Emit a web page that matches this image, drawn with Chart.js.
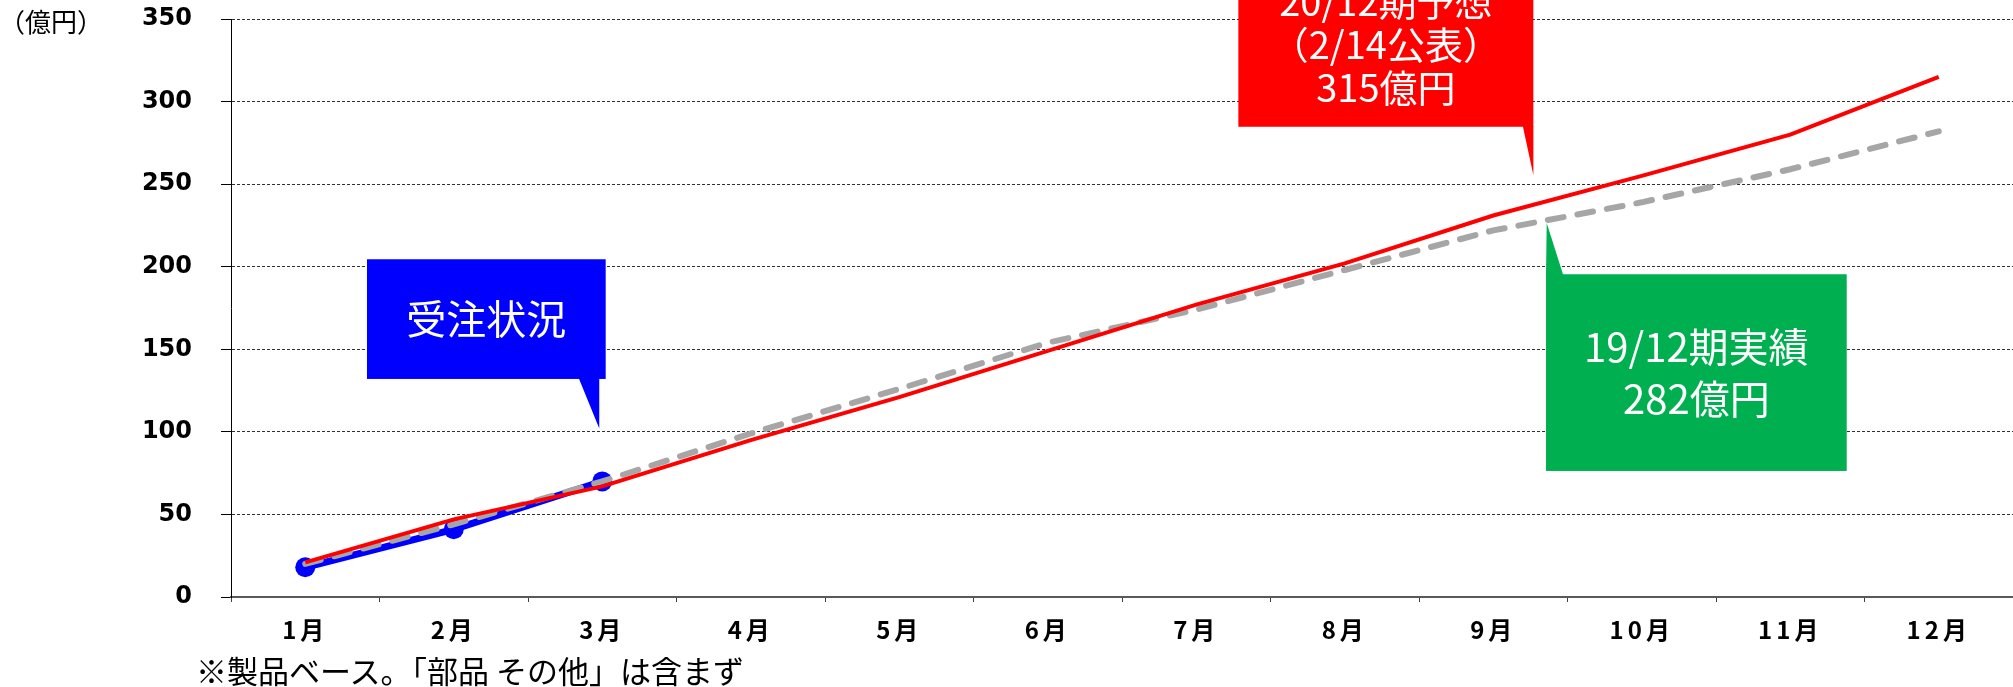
<!DOCTYPE html>
<html lang="ja">
<head>
<meta charset="utf-8">
<title>受注状況</title>
<script src="https://cdn.jsdelivr.net/npm/chart.js@4.4.1/dist/chart.umd.min.js"></script>
<style>
  html, body { margin: 0; padding: 0; background: #fff; overflow: hidden; }
  #wrap { position: relative; width: 2013px; height: 687px; }
  #c { position: absolute; left: 0; top: 0; }
  .unit { position: absolute; left: -1px; top: 6px; font: 26px "Noto Sans CJK JP", sans-serif; line-height: 30px; color: #000; white-space: nowrap; }
  .note { position: absolute; left: 196px; top: 654px; font: 31px "Noto Sans CJK JP", sans-serif; line-height: 31px; color: #000; white-space: nowrap; }
</style>
</head>
<body>
<div id="wrap">
  <canvas id="c" width="2013" height="687"></canvas>
  <div class="unit">（億円）</div>
  <div class="note">※製品ベース。「部品 その他」は含まず</div>
</div>
<script>
// Categories and axis ticks
const months = ['1月', '2月', '3月', '4月', '5月', '6月', '7月', '8月', '9月', '10月', '11月', '12月'];
const yTickValues = [0, 50, 100, 150, 200, 250, 300, 350];

// Cumulative values (億円)
const forecast2012 = [21, 47, 67, 95, 121, 149, 177, 202, 231, 255, 280, 315];   // 20/12期予想
const actual1912   = [20, 44, 70, 99, 126, 154, 174, 198, 222, 239, 259, 282];   // 19/12期実績
const orders2012   = [18, 41, 70, null, null, null, null, null, null, null, null, null]; // 受注状況

// Speech-bubble labels: tip anchored in data space, box given as pixel offsets from the tip
const callouts = [
  { lines: ['受注状況'], color: '#0000FF', tip: { x: 1.98, y: 102 },
    box: { dx: -232.3, dy: -169.3, w: 238.7, h: 119.7 }, base: [-20.6, 0], font: 40, lineGap: 0 },
  { lines: ['20/12期予想', '（2/14公表）', '315億円'], color: '#FF0000', tip: { x: 8.27, y: 255.5 },
    box: { dx: -295, dy: -212, w: 295, h: 163.7 }, base: [-10.6, 0], font: 38, lineGap: 43 },
  { lines: ['19/12期実績', '282億円'], color: '#00B050', tip: { x: 8.36, y: 226.5 },
    box: { dx: -0.7, dy: 51.3, w: 300.7, h: 196.7 }, base: [-0.7, 16.6], font: 40, lineGap: 51.7 }
];

// Month labels are drawn with a little extra tracking
const monthLabelSpacing = {
  id: 'monthLabelSpacing',
  beforeDraw(chart) {
    const sx = chart.scales.x;
    if (sx && !sx._tracked) {
      const drawLabels = sx.drawLabels.bind(sx);
      sx.drawLabels = (area) => {
        const ctx = sx.ctx;
        const prev = ctx.letterSpacing;
        ctx.letterSpacing = '4px';
        drawLabels(area);
        ctx.letterSpacing = prev || '0px';
      };
      sx._tracked = true;
    }
  }
};

const calloutPlugin = {
  id: 'callouts',
  afterDatasetsDraw(chart) {
    const { ctx } = chart;
    const xs = chart.scales.x, ys = chart.scales.y;
    callouts.forEach(c => {
      const tx = xs.getPixelForValue(c.tip.x);
      const ty = ys.getPixelForValue(c.tip.y);
      const bx = tx + c.box.dx, by = ty + c.box.dy;
      const below = c.box.dy > 0;
      const edgeY = below ? by : by + c.box.h;
      ctx.save();
      ctx.fillStyle = c.color;
      ctx.fillRect(bx, by, c.box.w, c.box.h);
      ctx.beginPath();
      ctx.moveTo(tx + c.base[0], edgeY + (below ? 1 : -1));
      ctx.lineTo(tx + c.base[1], edgeY + (below ? 1 : -1));
      ctx.lineTo(tx, ty);
      ctx.closePath();
      ctx.fill();
      ctx.fillStyle = '#FFFFFF';
      ctx.font = c.font + 'px "Noto Sans CJK JP", sans-serif';
      ctx.textAlign = 'center';
      ctx.textBaseline = 'middle';
      const cx = bx + c.box.w / 2;
      const cy = by + c.box.h / 2;
      const n = c.lines.length;
      c.lines.forEach((t, i) => {
        ctx.fillText(t, cx, cy + (i - (n - 1) / 2) * c.lineGap);
      });
      ctx.restore();
    });
  }
};

new Chart(document.getElementById('c'), {
  type: 'line',
  data: {
    labels: months,
    datasets: [
      {
        label: '20/12期予想',
        data: forecast2012,
        borderColor: '#FF0000',
        borderWidth: 4,
        pointRadius: 0,
        tension: 0,
        fill: false
      },
      {
        label: '19/12期実績',
        data: actual1912,
        borderColor: '#A6A6A6',
        borderWidth: 6,
        borderDash: [16, 14],
        borderCapStyle: 'round',
        pointRadius: 0,
        tension: 0,
        fill: false
      },
      {
        label: '受注状況',
        data: orders2012,
        borderColor: '#0000FF',
        backgroundColor: '#0000FF',
        borderWidth: 7,
        pointRadius: 10,
        pointBorderWidth: 0,
        pointStyle: 'circle',
        tension: 0,
        fill: false,
        spanGaps: false
      }
    ]
  },
  options: {
    responsive: false,
    animation: false,
    events: [],
    layout: { autoPadding: false, padding: { top: 19, right: -3, bottom: 0, left: 0 } },
    plugins: { legend: { display: false }, tooltip: { enabled: false } },
    scales: {
      x: {
        type: 'category',
        offset: true,
        grid: {
          offset: true,
          drawOnChartArea: false,
          drawTicks: true,
          tickLength: 5,
          tickColor: '#404040',
          tickWidth: 1
        },
        border: { display: true, color: '#595959', width: 2 },
        ticks: {
          color: '#000',
          padding: 13,
          maxRotation: 0,
          autoSkip: false,
          font: { family: '"Noto Sans CJK JP", sans-serif', size: 24, weight: 'bold' }
        },
        afterFit(scale) { scale.height = 90; scale.paddingLeft = 0; scale.paddingRight = 0; }
      },
      y: {
        min: 0,
        max: 350,
        afterBuildTicks(scale) { scale.ticks = yTickValues.map(v => ({ value: v })); },
        grid: {
          color: '#303030',
          lineWidth: 1,
          drawTicks: true,
          tickLength: 10,
          tickColor: '#000',
          tickWidth: 1,
          tickBorderDash: []
        },
        border: { display: true, color: '#000', width: 1, dash: [3, 2] },
        ticks: {
          color: '#000',
          padding: 29,
          font: { family: '"DejaVu Sans", sans-serif', size: 24, weight: 'bold' }
        },
        afterFit(scale) { scale.width = 231; scale.paddingTop = 0; scale.paddingBottom = 0; }
      }
    }
  },
  plugins: [monthLabelSpacing, calloutPlugin]
});
</script>
</body>
</html>
